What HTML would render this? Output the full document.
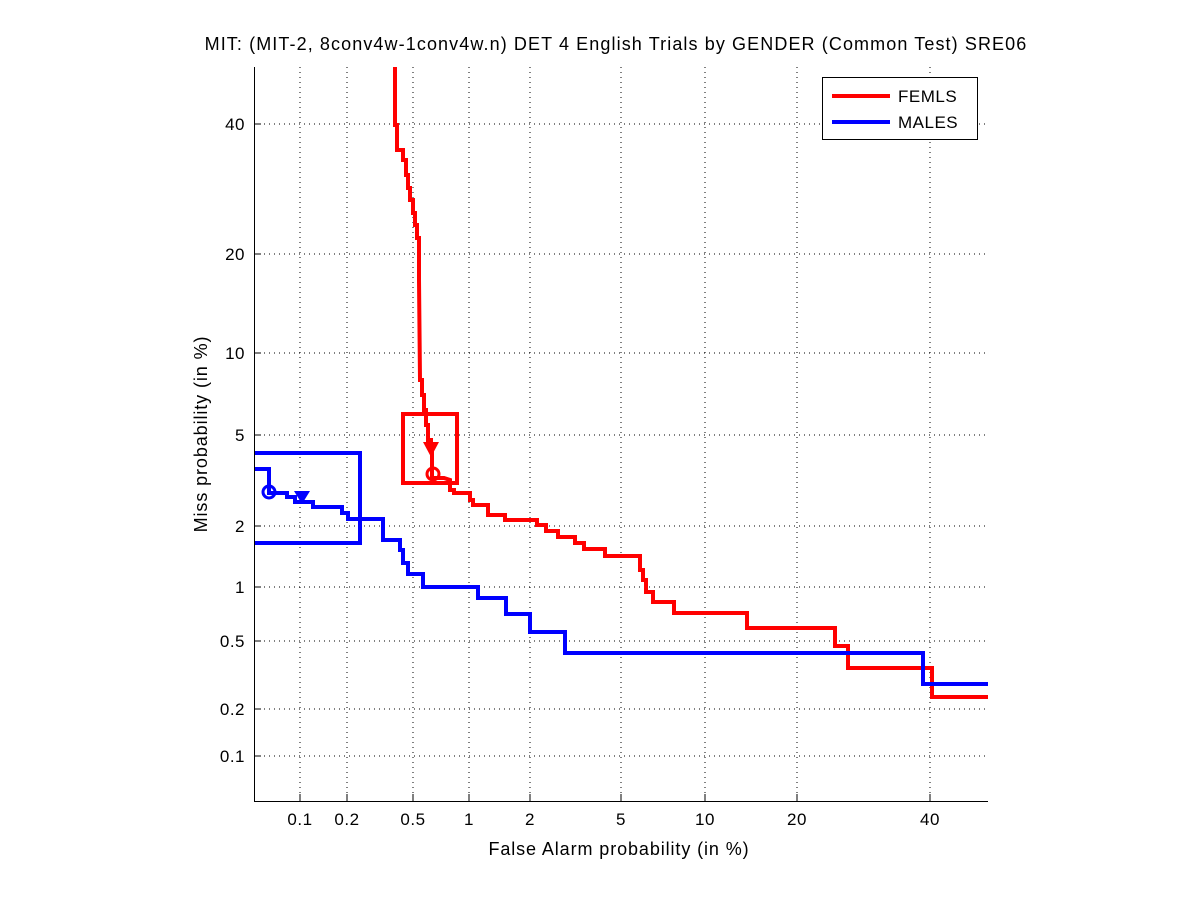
<!DOCTYPE html><html><head><style>body{margin:0;background:#fff}svg text{font-family:"Liberation Sans",sans-serif;fill:#000}</style></head><body>
<svg width="1201" height="900" xmlns="http://www.w3.org/2000/svg">
<defs><clipPath id="c"><rect x="254" y="67" width="734" height="734"/></clipPath></defs>
<rect width="1201" height="900" fill="#fff"/>
<g stroke="#000" stroke-width="1" stroke-dasharray="1,4" fill="none">
<path d="M300,67V801M347,67V801M413,67V801M469,67V801M530,67V801M621,67V801M705,67V801M797,67V801M930,67V801"/>
<path d="M254,124H988M254,254H988M254,353H988M254,435H988M254,526H988M254,587H988M254,641H988M254,709H988M254,756H988"/>
</g>
<g stroke="#000" stroke-width="1" fill="none">
<path d="M300,801v-7M347,801v-7M413,801v-7M469,801v-7M530,801v-7M621,801v-7M705,801v-7M797,801v-7M930,801v-7"/>
<path d="M254,124h7M254,254h7M254,353h7M254,435h7M254,526h7M254,587h7M254,641h7M254,709h7M254,756h7"/>
</g>
<g font-size="17" text-anchor="middle" letter-spacing="0.5">
<text x="300" y="825">0.1</text><text x="347" y="825">0.2</text><text x="413" y="825">0.5</text><text x="469" y="825">1</text><text x="530" y="825">2</text><text x="621" y="825">5</text><text x="705" y="825">10</text><text x="797" y="825">20</text><text x="930" y="825">40</text>
</g>
<g font-size="17" text-anchor="end" letter-spacing="0.5">
<text x="245" y="130">40</text><text x="245" y="260">20</text><text x="245" y="359">10</text><text x="245" y="441">5</text><text x="245" y="532">2</text><text x="245" y="593">1</text><text x="245" y="647">0.5</text><text x="245" y="715">0.2</text><text x="245" y="762">0.1</text>
</g>
<text x="616" y="50" font-size="18" text-anchor="middle" letter-spacing="1.1">MIT: (MIT-2, 8conv4w-1conv4w.n) DET 4 English Trials by GENDER (Common Test) SRE06</text>
<text x="619" y="855" font-size="18" text-anchor="middle" letter-spacing="0.9">False Alarm probability (in %)</text>
<text transform="translate(207,434) rotate(-90)" font-size="18" text-anchor="middle" letter-spacing="0.9">Miss probability (in %)</text>
<g fill="none" stroke-width="4" stroke-linejoin="miter" clip-path="url(#c)">
<rect x="403" y="414" width="54" height="69" stroke="#f00"/>
<rect x="250" y="453" width="110" height="90" stroke="#00f"/>
<path stroke="#f00" d="M395,67V125H397V150H403V160H406V175H408V188H410V200H413V213H415V225H417V238H419V280L420,380H422V395H424V410H426V425H428V440H431V448H432V478H444L450,480V490H454V493H470V500H473V505H488V515H505V520H537V525H546V531H558V537H575V543H584V549H605V556H640V570H643V580H646V592H653V602H674V613H747V628H835V646H848V668H932V697H988"/>
<path stroke="#00f" d="M254,469H269V493H287V497H295V502H313V507H342V513H348V519H383V540H400V550H403V563H408V574H423V587H478V598H506V614H530V632H565V653H923V684H988"/>
</g>
<path d="M254.5,67V801.5H988" stroke="#000" fill="none"/>
<g stroke-width="3" fill="none">
<circle cx="433" cy="474" r="6" stroke="#f00"/>
<circle cx="269" cy="492" r="6" stroke="#00f"/>
</g>
<path d="M423,442h16l-8,15z" fill="#f00"/>
<path d="M294,491h16l-8,13z" fill="#00f"/>
<rect x="822.5" y="77.5" width="155" height="62" fill="#fff" stroke="#000"/>
<path d="M832,96H890" stroke="#f00" stroke-width="4"/>
<path d="M832,122H890" stroke="#00f" stroke-width="4"/>
<text x="898" y="102" font-size="17" letter-spacing="0.5">FEMLS</text>
<text x="898" y="128" font-size="17" letter-spacing="0.5">MALES</text>
</svg></body></html>
